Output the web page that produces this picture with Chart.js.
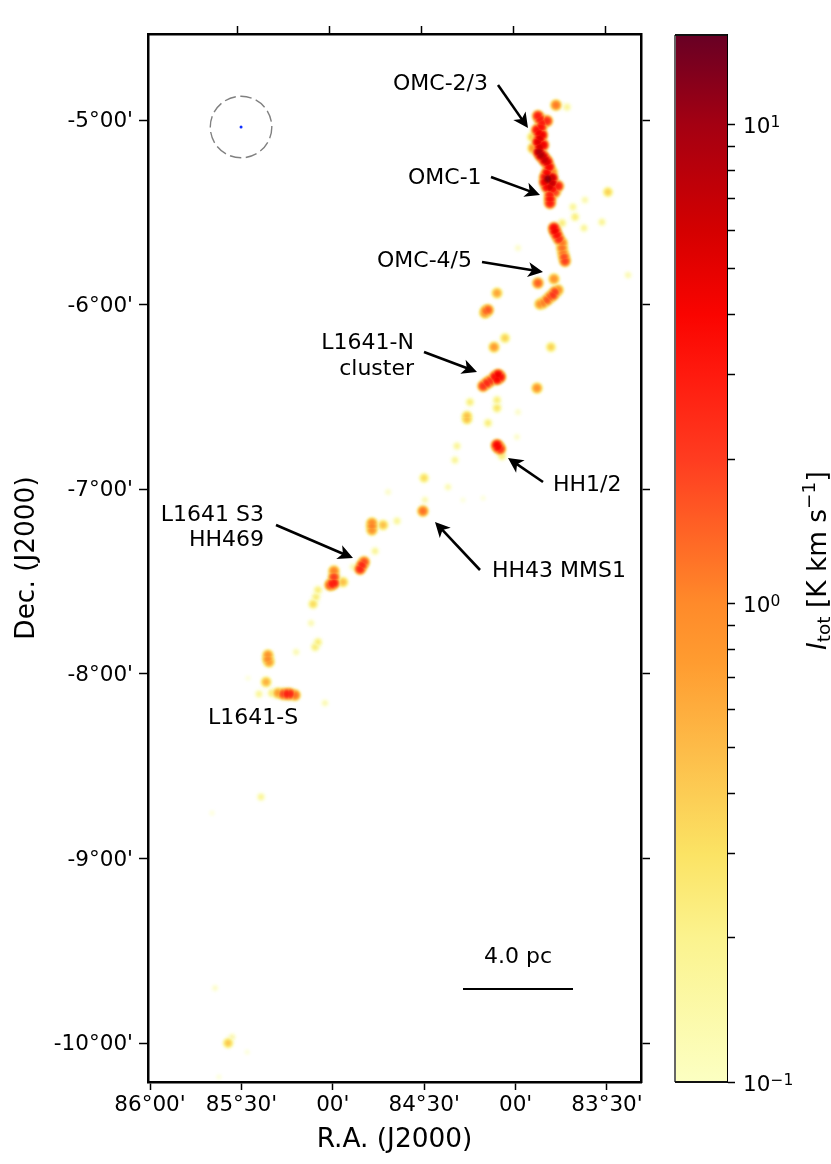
<!DOCTYPE html>
<html>
<head>
<meta charset="utf-8">
<title>Orion A integrated intensity</title>
<script src="https://cdn.jsdelivr.net/npm/chart.js@4"></script>
<style>
  body { margin: 0; background: #fff; }
  canvas { position: absolute; top: 0; }
  #map { left: 0; }
  #cbar { left: 660px; }
</style>
</head>
<body>
<canvas id="map" width="831" height="1164"></canvas>
<canvas id="cbar" width="171" height="1164"></canvas>
<script>
// emission peaks: R.A. (deg), Dec. (deg), intensity (K km/s)
const blobRa = [83.779,83.719,83.878,83.828,83.856,83.883,83.856,83.878,83.850,83.872,83.850,83.828,83.910,83.905,83.801,83.839,83.823,83.801,83.768,83.828,83.785,83.812,83.812,83.790,83.774,83.746,83.741,83.730,83.746,83.495,83.686,83.621,83.675,83.626,83.528,83.385,83.987,83.790,83.878,83.785,83.812,83.850,83.867,83.768,84.102,84.151,84.168,84.118,84.058,83.807,84.096,84.113,84.085,84.140,84.178,83.883,84.102,84.102,84.250,84.266,84.151,83.987,84.102,84.085,84.075,83.993,84.321,84.332,84.370,84.501,84.496,84.288,84.178,84.507,84.786,84.786,84.725,84.649,84.698,84.769,84.829,84.851,84.890,84.994,84.994,85.015,84.944,85.081,85.108,85.092,85.119,85.081,85.097,85.201,85.355,85.349,85.365,85.404,85.333,85.272,85.234,85.207,85.043,85.464,85.393,85.661,85.644,85.573,85.551,85.469,85.623,
  83.867,83.861,83.872,83.867,83.867,83.861,83.839,83.817,83.828,83.801,83.812,83.796,83.812,83.839,83.785,83.763,83.746,83.735,83.796,83.828,84.162,84.102,84.157,84.096,84.994,85.004,84.840,85.251,85.300,85.355,84.786,84.266];
const blobDec = [-4.919,-4.930,-4.978,-5.005,-5.016,-5.054,-5.081,-5.119,-5.135,-5.173,-5.200,-5.228,-5.092,-5.152,-5.282,-5.309,-5.320,-5.341,-5.358,-5.363,-5.390,-5.406,-5.450,-5.585,-5.623,-5.666,-5.720,-5.764,-5.558,-5.390,-5.471,-5.433,-5.525,-5.585,-5.553,-5.840,-5.693,-5.861,-5.883,-5.932,-5.959,-5.991,-5.997,-5.921,-5.937,-6.029,-6.045,-6.230,-6.181,-6.230,-6.381,-6.392,-6.392,-6.414,-6.441,-6.452,-6.517,-6.560,-6.528,-6.603,-6.641,-6.582,-6.761,-6.782,-6.820,-6.717,-6.766,-6.842,-6.988,-6.939,-7.058,-7.058,-7.048,-7.118,-7.183,-7.221,-7.194,-7.172,-7.015,-7.335,-7.394,-7.432,-7.421,-7.443,-7.508,-7.519,-7.503,-7.546,-7.622,-7.584,-7.725,-7.828,-7.855,-7.882,-7.898,-7.936,-8.044,-8.109,-8.104,-8.109,-8.109,-8.115,-8.158,-8.023,-8.667,-8.754,-9.702,-10.000,-9.967,-10.049,-10.184,
  -4.995,-5.038,-5.070,-5.098,-5.146,-5.190,-5.217,-5.255,-5.287,-5.314,-5.363,-5.374,-5.428,-5.336,-5.601,-5.645,-5.693,-5.742,-5.948,-5.975,-6.035,-6.403,-6.425,-6.771,-7.476,-7.513,-7.411,-8.109,-8.104,-7.920,-7.199,-6.620];
const blobI = [1.2,0.2,3,2.5,3,3.5,4.5,5.5,4.5,9,7,5.5,0.4,0.8,1.2,3.5,12,7,3,4,2,3,3,4,3.5,1.2,1.2,2,0.25,0.4,0.2,0.17,0.25,0.2,0.2,0.16,0.13,0.9,1.5,2,1.6,1.1,0.9,1,0.7,1.6,0.9,0.8,0.4,0.4,4.5,3.5,3.5,2.2,2.2,0.9,0.25,0.3,0.25,0.5,0.25,0.13,4,2.5,0.25,0.13,0.2,0.2,0.16,0.35,0.16,0.1,0.1,1.3,1,0.9,0.5,0.2,0.13,0.2,1.8,2.6,0.16,1.1,3,1.8,0.5,0.25,0.35,0.25,0.16,0.25,0.25,0.16,0.9,0.8,0.6,0.2,0.25,1.8,2.6,1.3,0.16,0.1,0.2,0.1,0.13,0.45,0.16,0.1,0.1,
  3,3.5,4.5,5.5,6,9,7,4,4,7,6,3.5,3.5,5,4.5,2.5,1.3,1.8,2.2,1.6,1.4,4,2.5,4,2,3,2.5,2.8,0.8,1,1.1,0.5];

const raTicks = [86, 85.5, 85, 84.5, 84, 83.5];
const raLabels = ["86°00'", "85°30'", "00'", "84°30'", "00'", "83°30'"];
const decTicks = [-5, -6, -7, -8, -9, -10];
const decLabels = ["-5°00'", "-6°00'", "-7°00'", "-8°00'", "-9°00'", "-10°00'"];

const cbarTicks = [0.1,0.2,0.3,0.4,0.5,0.6,0.7,0.8,0.9,1,2,3,4,5,6,7,8,9,10];
const cbarLabelled = [0.1, 1, 10];
const cbarExponents = ["−1", "0", "1"];
const cbarMin = 0.1;
const cbarMax = 15.37;
const cmapVals = [0.1,0.2,0.3,0.5,0.75,1,2,3,4,6,10,15.37];
const cmapColors = ["#fcffc2","#fbf38e","#fbe364","#fdbb48","#ff9c30","#ff8a2a","#ff3c20","#ff1a0e","#fa0400","#d40000","#a40012","#680024"];

const beamRa = [85.502];
const beamDec = [-5.038];
const beamRadiusArcmin = 10;

const fontName = "'DejaVu Sans'";
const tickSize = 21.5;
const labelSize = 22;
const titleSize = 26.4;

function hexToRgb(h) {
  return [parseInt(h.slice(1, 3), 16), parseInt(h.slice(3, 5), 16), parseInt(h.slice(5, 7), 16)];
}

function cmap(v) {
  let stops = cmapColors.map(hexToRgb);
  if (v <= cmapVals[0]) return stops[0];
  for (let i = 1; i < cmapVals.length; i++) {
    if (v <= cmapVals[i]) {
      let t = Math.log(v / cmapVals[i - 1]) / Math.log(cmapVals[i] / cmapVals[i - 1]);
      return stops[i].map((c, k) => stops[i - 1][k] + (c - stops[i - 1][k]) * t);
    }
  }
  return stops[stops.length - 1];
}

// soft sprite for one peak, colour follows the log colour scale
const beamWidth = 4.8;
const floorVal = 0.05;
function makeSprite(peak) {
  // bright peaks have a flatter top, faint ones just fade out
  let power = 2 + 2 * Math.min(1, Math.max(0, Math.log10(peak / 0.3)));
  let R = Math.ceil(beamWidth * Math.pow(Math.log(peak / floorVal), 1 / power)) + 1;
  let size = 2 * R + 1;
  let c = document.createElement("canvas");
  c.width = size;
  c.height = size;
  let g = c.getContext("2d");
  let img = g.createImageData(size, size);
  for (let y = 0; y < size; y++) {
    for (let x = 0; x < size; x++) {
      let r = Math.hypot(x - R, y - R);
      let v = peak * Math.exp(-Math.pow(r / beamWidth, power));
      let rgb = cmap(v);
      let a = Math.min(1, Math.max(0, Math.log10(v / floorVal) / 0.6));
      let p = (y * size + x) * 4;
      img.data[p] = rgb[0];
      img.data[p + 1] = rgb[1];
      img.data[p + 2] = rgb[2];
      img.data[p + 3] = a * 255;
    }
  }
  g.putImageData(img, 0, 0);
  return c;
}

function drawArrow(ctx, x0, y0, x1, y1) {
  let ang = Math.atan2(y1 - y0, x1 - x0);
  ctx.save();
  ctx.translate(x1, y1);
  ctx.rotate(ang);
  let len = Math.hypot(x1 - x0, y1 - y0);
  ctx.strokeStyle = "#000";
  ctx.fillStyle = "#000";
  ctx.lineWidth = 2.6;
  ctx.beginPath();
  ctx.moveTo(-len, 0);
  ctx.lineTo(-9, 0);
  ctx.stroke();
  ctx.beginPath();
  ctx.moveTo(0, 0);
  ctx.lineTo(-15, -7.5);
  ctx.lineTo(-11, 0);
  ctx.lineTo(-15, 7.5);
  ctx.closePath();
  ctx.fill();
  ctx.restore();
}

const mapNotes = {
  id: "mapNotes",
  beforeDatasetDraw(chart, args) {
    if (args.index === 0) {
      chart.ctx.globalCompositeOperation = "darken";
      chart.ctx.filter = "blur(1.2px)";
    }
  },
  afterDatasetDraw(chart, args) {
    if (args.index === 0) {
      chart.ctx.globalCompositeOperation = "source-over";
      chart.ctx.filter = "none";
    }
  },
  afterDatasetsDraw(chart) {
    let ctx = chart.ctx;
    let sx = chart.scales.x;
    let sy = chart.scales.y;

    // beam circle
    let cx = sx.getPixelForValue(beamRa[0]);
    let cy = sy.getPixelForValue(beamDec[0]);
    let rad = Math.abs(sy.getPixelForValue(beamDec[0] - beamRadiusArcmin / 60) - cy);
    ctx.save();
    ctx.strokeStyle = "#808080";
    ctx.lineWidth = 1.4;
    ctx.setLineDash([11.5, 4.5]);
    ctx.beginPath();
    ctx.arc(cx, cy, rad, 0, Math.PI * 2);
    ctx.stroke();
    ctx.restore();

    // arrows and names
    drawArrow(ctx, 498, 85, 528, 128);
    drawArrow(ctx, 491, 177, 540, 195);
    drawArrow(ctx, 482, 262, 543, 272);
    drawArrow(ctx, 424, 352, 477, 372);
    drawArrow(ctx, 543, 482, 508, 458);
    drawArrow(ctx, 480, 570, 435, 522);
    drawArrow(ctx, 276, 525, 353, 558);

    ctx.save();
    ctx.fillStyle = "#000";
    ctx.font = labelSize + "px " + fontName;
    ctx.textBaseline = "middle";
    ctx.textAlign = "left";
    ctx.fillText("OMC-2/3", 393, 84);
    ctx.fillText("OMC-1", 408, 178);
    ctx.fillText("OMC-4/5", 377, 261);
    ctx.fillText("HH1/2", 553, 485);
    ctx.fillText("HH43 MMS1", 492, 571);
    ctx.fillText("L1641-S", 208, 718);
    ctx.textAlign = "right";
    ctx.fillText("L1641-N", 414, 343);
    ctx.fillText("cluster", 414, 369);
    ctx.fillText("L1641 S3", 264, 515);
    ctx.fillText("HH469", 264, 540);
    ctx.textAlign = "center";
    ctx.fillText("4.0 pc", 518, 957);
    ctx.restore();

    // scale bar
    ctx.save();
    ctx.strokeStyle = "#000";
    ctx.lineWidth = 2;
    ctx.beginPath();
    ctx.moveTo(463, 989);
    ctx.lineTo(573, 989);
    ctx.stroke();
    ctx.restore();
  }
};

function fixedSize(prop, size) {
  return function (scale) { scale[prop] = size; };
}

function tickGrid(len) {
  return { drawOnChartArea: false, drawTicks: true, tickLength: len, tickWidth: 1.5, tickColor: "#000" };
}
const spine = { display: true, width: 2.5, color: "#000" };

new Chart(document.getElementById("map"), {
  type: "scatter",
  data: {
    datasets: [
      {
        data: blobRa.map((ra, i) => ({ x: ra, y: blobDec[i] })),
        pointStyle: blobI.map(makeSprite),
        pointRadius: 3,
        pointBorderWidth: 0
      },
      {
        data: beamRa.map((ra, i) => ({ x: ra, y: beamDec[i] })),
        pointStyle: "circle",
        pointRadius: 1.5,
        pointBorderWidth: 0,
        backgroundColor: "#1030ff"
      }
    ]
  },
  options: {
    responsive: false,
    animation: false,
    events: [],
    layout: { padding: 0 },
    plugins: { legend: { display: false }, tooltip: { enabled: false } },
    scales: {
      x: {
        type: "linear",
        position: "bottom",
        reverse: true,
        min: 83.314,
        max: 86.011,
        afterBuildTicks: (a) => { a.ticks = raTicks.map((v) => ({ value: v })); },
        afterFit: fixedSize("height", 82),
        grid: tickGrid(8),
        border: spine,
        ticks: {
          autoSkip: false,
          maxRotation: 0,
          padding: 3,
          color: "#000",
          font: { family: fontName, size: tickSize },
          callback: (v, i) => raLabels[i]
        },
        title: { display: true, text: "R.A. (J2000)", color: "#000", font: { family: fontName, size: titleSize }, padding: { top: 0, bottom: 8 } }
      },
      xTop: {
        type: "linear",
        position: "top",
        reverse: true,
        min: 83.308,
        max: 85.985,
        afterBuildTicks: (a) => { a.ticks = raTicks.slice(1).map((v) => ({ value: v })); },
        afterFit: fixedSize("height", 34),
        grid: tickGrid(8),
        border: spine,
        ticks: { autoSkip: false, maxRotation: 0, padding: 0, callback: () => "" }
      },
      y: {
        type: "linear",
        position: "left",
        min: -10.211,
        max: -4.534,
        afterBuildTicks: (a) => { a.ticks = decTicks.map((v) => ({ value: v })); },
        afterFit: fixedSize("width", 148),
        grid: tickGrid(9),
        border: spine,
        ticks: {
          autoSkip: false,
          padding: 6,
          labelOffset: 1.5,
          color: "#000",
          font: { family: fontName, size: tickSize },
          callback: (v, i) => decLabels[i]
        },
        title: { display: true, text: "Dec. (J2000)", color: "#000", font: { family: fontName, size: titleSize }, padding: { top: 11, bottom: 0 } }
      },
      yRight: {
        type: "linear",
        position: "right",
        min: -10.211,
        max: -4.534,
        afterBuildTicks: (a) => { a.ticks = decTicks.map((v) => ({ value: v })); },
        afterFit: fixedSize("width", 190),
        grid: tickGrid(9),
        border: spine,
        ticks: { autoSkip: false, padding: 0, callback: () => "" }
      }
    }
  },
  plugins: [mapNotes]
});

// colour bar title and decade labels, drawn in pieces for the sub and superscripts
const cbarText = {
  id: "cbarText",
  afterDraw(chart) {
    let ctx = chart.ctx;
    let scale = chart.scales.y;
    let a = chart.chartArea;

    ctx.save();
    ctx.strokeStyle = "#666";
    ctx.lineWidth = 2;
    ctx.beginPath();
    ctx.moveTo(a.left, a.top);
    ctx.lineTo(a.left, a.bottom);
    ctx.stroke();
    ctx.strokeStyle = "#111";
    ctx.beginPath();
    ctx.moveTo(a.left, a.top);
    ctx.lineTo(a.right, a.top);
    ctx.moveTo(a.left, a.bottom);
    ctx.lineTo(a.right, a.bottom);
    ctx.stroke();
    ctx.restore();

    ctx.save();
    ctx.fillStyle = "#000";
    ctx.textBaseline = "alphabetic";
    cbarLabelled.forEach((v, i) => {
      let y = scale.getPixelForValue(v);
      ctx.font = tickSize + "px " + fontName;
      ctx.fillText("10", 83, y + 9);
      ctx.font = "15.5px " + fontName;
      ctx.fillText(cbarExponents[i], 110.5, y + 2.5);
    });
    ctx.restore();

    ctx.save();
    ctx.translate(166, 650);
    ctx.rotate(-Math.PI / 2);
    ctx.fillStyle = "#000";
    ctx.textBaseline = "alphabetic";
    let x = 0;
    let piece = function (text, size, style, dy) {
      ctx.font = style + " " + size + "px " + fontName;
      ctx.fillText(text, x, dy);
      x += ctx.measureText(text).width;
    };
    piece("I", titleSize, "italic", 0);
    piece("tot", 18.5, "normal", 4);
    piece(" [K km s", titleSize, "normal", 0);
    piece("−1", 18.5, "normal", -11);
    piece("]", titleSize, "normal", 0);
    ctx.restore();
  }
};

function cbarFill(ctx) {
  let area = ctx.chart.chartArea;
  if (!area) return "#ff0000";
  let scale = ctx.chart.scales.y;
  let grad = ctx.chart.ctx.createLinearGradient(0, area.bottom, 0, area.top);
  cmapVals.forEach((v, i) => {
    let t = (scale.getPixelForValue(v) - area.bottom) / (area.top - area.bottom);
    grad.addColorStop(Math.min(1, Math.max(0, t)), cmapColors[i]);
  });
  return grad;
}

new Chart(document.getElementById("cbar"), {
  type: "bar",
  data: {
    labels: ["I"],
    datasets: [{
      data: [[cbarMin, cbarMax]],
      backgroundColor: cbarFill,
      barPercentage: 1,
      categoryPercentage: 1,
      borderWidth: 0
    }]
  },
  options: {
    responsive: false,
    animation: false,
    events: [],
    layout: { padding: { left: 15, top: 35, bottom: 82 } },
    plugins: { legend: { display: false }, tooltip: { enabled: false } },
    scales: {
      x: { display: false },
      y: {
        type: "logarithmic",
        position: "right",
        min: cbarMin,
        max: cbarMax,
        afterBuildTicks: (a) => { a.ticks = cbarTicks.map((v) => ({ value: v })); },
        afterFit: fixedSize("width", 104),
        grid: tickGrid(8),
        border: { display: true, width: 2, color: "#000" },
        ticks: { autoSkip: false, maxRotation: 0, padding: 0, callback: () => "" }
      }
    }
  },
  plugins: [cbarText]
});
</script>
</body>
</html>
